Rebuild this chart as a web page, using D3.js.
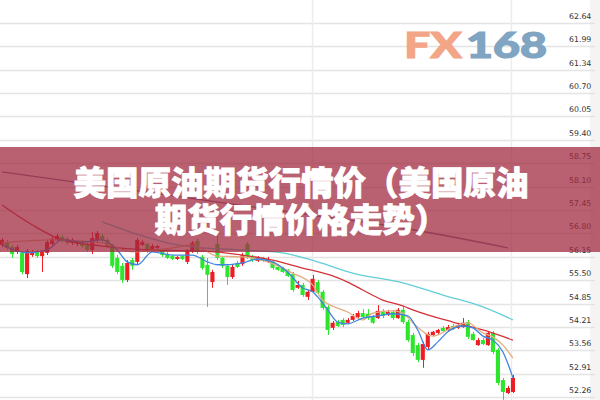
<!DOCTYPE html>
<html><head><meta charset="utf-8">
<script src="https://cdn.jsdelivr.net/npm/d3@7/dist/d3.min.js"></script>
<style>html,body{margin:0;padding:0;background:#fff;overflow:hidden}svg{display:block}</style>
</head><body>
<svg id="chart" width="600" height="400"></svg>
<script>
// ---- data ----
const openP = [56.48,56.56,56.42,56.29,56.26,55.67,56.20,56.29,56.17,56.26,
 56.51,56.62,56.70,56.65,56.54,56.51,56.56,56.48,56.34,56.62,
 56.73,56.62,56.45,56.12,55.90,55.51,56.06,56.01,56.48,56.51,
 56.37,56.40,56.31,56.23,56.17,56.09,56.17,56.01,56.29,56.59,
 56.15,55.93,55.45,56.51,56.12,55.90,55.59,55.98,55.95,56.51,
 56.15,56.04,56.12,56.01,56.01,55.87,55.84,55.79,55.67,55.29,
 55.37,55.04,55.18,55.45,55.18,54.76,54.18,54.34,54.40,54.32,
 54.40,54.48,54.59,54.57,54.48,54.45,54.65,54.54,54.62,54.45,
 54.68,54.34,53.98,53.70,53.29,53.65,53.98,54.04,54.18,54.12,
 54.23,54.18,54.20,54.34,54.01,53.70,53.84,53.70,54.04,53.57,
 52.73,52.37,52.40];
const closeP = [56.62,56.40,56.23,56.42,55.73,56.31,56.29,56.17,56.29,56.56,
 56.65,56.73,56.59,56.54,56.62,56.59,56.45,56.34,56.67,56.81,
 56.62,56.45,55.90,55.73,55.51,55.98,55.90,56.62,56.56,56.31,
 56.45,56.45,56.20,56.12,56.09,56.15,56.09,56.31,56.54,56.29,
 55.84,55.65,55.73,56.12,55.90,55.59,55.87,55.87,56.20,56.15,
 56.06,56.12,56.04,56.09,55.84,55.79,55.73,55.62,55.23,55.37,
 55.09,55.18,55.54,55.15,54.73,54.12,54.32,54.23,54.26,54.40,
 54.51,54.59,54.48,54.45,54.32,54.65,54.51,54.62,54.45,54.68,
 54.34,53.84,53.48,53.29,53.73,54.01,54.07,54.12,54.09,54.20,
 54.15,54.26,54.32,53.93,53.84,53.84,53.73,54.04,53.51,52.65,
 52.40,52.51,52.79];
const highP = [56.67,56.62,56.48,56.48,56.31,56.37,56.34,56.34,56.34,56.62,
 56.70,56.79,56.76,56.70,56.67,56.62,56.62,56.54,56.84,56.87,
 56.79,56.67,56.51,56.20,55.98,56.06,56.12,56.67,56.62,56.54,
 56.51,56.48,56.34,56.29,56.20,56.17,56.20,56.37,56.59,56.65,
 56.20,56.12,55.79,56.73,56.17,55.95,55.93,56.04,56.26,56.56,
 56.20,56.17,56.15,56.15,56.06,55.90,55.87,55.81,55.73,55.48,
 55.43,55.23,55.65,55.51,55.23,54.81,54.37,54.40,54.45,54.45,
 54.57,54.65,54.70,54.70,54.54,54.81,54.70,54.68,54.68,54.73,
 54.79,54.40,54.04,53.76,53.79,54.07,54.09,54.15,54.23,54.26,
 54.29,54.32,54.45,54.40,54.07,53.90,53.90,54.09,54.09,53.62,
 52.79,52.57,52.87];
const lowP = [56.42,56.34,56.12,56.23,55.67,55.56,56.15,56.12,55.73,56.20,
 56.45,56.59,56.54,56.48,56.48,56.45,56.40,56.29,56.23,56.56,
 56.56,56.40,55.84,55.67,55.43,55.45,55.79,55.95,56.45,56.26,
 56.34,56.37,56.15,56.09,56.06,56.06,56.06,55.95,56.26,56.23,
 55.79,54.76,55.29,56.06,55.84,55.37,55.54,55.84,55.90,56.09,
 56.01,56.01,56.01,55.98,55.79,55.76,55.70,55.59,55.18,55.26,
 55.04,54.95,55.15,55.09,54.68,53.98,54.12,54.20,54.20,54.29,
 54.37,54.45,54.45,54.40,54.29,54.43,54.45,54.51,54.40,54.43,
 54.29,53.79,53.40,53.23,53.07,53.59,53.95,54.01,54.07,54.09,
 54.12,54.15,54.18,53.87,53.82,53.68,53.70,53.68,53.45,52.59,
 52.18,52.34,52.37];
const sessions = openP.map((_, i) => i);

// moving-average lines, read at selected sessions
const ma5Idx = [0,5,9,12,16,20,23,25,27,30,34,38,41,43,45,48,51,54,57,60,62,63,65,67,69,72,75,78,81,83,85,87,89,92,94,96,98,100,102];
const ma5Val = [56.48,56.26,56.34,56.62,56.56,56.62,56.34,56.01,55.93,56.29,56.20,56.20,56.01,55.93,55.93,55.98,56.09,56.01,55.73,55.29,55.18,55.04,54.68,54.34,54.29,54.45,54.51,54.57,54.51,54.12,53.57,53.79,54.07,54.23,54.18,53.95,53.84,53.51,52.79];
const ma10Idx = [0,10,20,26,34,38,43,48,53,58,62,64,69,72,74,78,80,82,86,90,93,96,98,100,102];
const ma10Val = [56.54,56.62,56.54,56.29,56.40,56.48,56.17,56.15,56.01,55.70,55.37,54.95,54.62,54.40,54.59,54.65,54.59,54.32,53.95,54.20,54.32,54.04,53.93,53.70,53.34];
const ma20Idx = [0,6,12,20,30,40,48,54,60,66,69,72,76,80,82,90,96,102];
const ma20Val = [57.59,57.04,56.62,56.45,56.34,56.31,56.20,56.06,55.84,55.62,55.45,55.23,54.95,54.79,54.68,54.34,54.12,53.84];
const ma40Idx = [20,28,35,40,48,56,63,70,80,88,96,102];
const ma40Val = [57.12,56.73,56.48,56.40,56.34,56.26,56.01,55.70,55.43,55.09,54.76,54.40];
const ma60Idx = [0,20,40,60,80,101];
const ma60Val = [58.51,58.12,57.73,57.34,56.95,56.40];

const tickLabels = ["62.64","61.99","61.34","60.70","60.05","59.40","58.75","58.10","57.45","56.80","56.15","55.50","54.85","54.21","53.56","52.91","52.26"];
const titleLines = ["美国原油期货行情价（美国原油", "期货行情价格走势）"];
const logoParts = ["FX", "168"];

// ---- drawing ----
const svg = d3.select("#chart");
const y = d3.scaleLinear().domain([52.26, 62.64]).range([397, 23]);
const x = d3.scaleBand().domain(sessions).range([0, 515]).paddingInner(0.18);
const bw = x.bandwidth();
const cx = i => x(i) + bw / 2;

// right strip
svg.append("rect").attr("x", 590).attr("y", 0).attr("width", 10).attr("height", 400).attr("fill", "#f4f4f4");

// horizontal grid
svg.append("g").selectAll("line").data(tickLabels).join("line")
  .attr("x1", 0).attr("x2", 595)
  .attr("y1", d => Math.round(y(+d)) + 0.5).attr("y2", d => Math.round(y(+d)) + 0.5)
  .attr("stroke", "#e4e4e4").attr("stroke-width", 1.3);
// vertical grid
svg.append("g").selectAll("line").data([62, 101.7]).join("line")
  .attr("x1", d => cx(Math.floor(d)) + (d % 1) * 5).attr("x2", d => cx(Math.floor(d)) + (d % 1) * 5)
  .attr("y1", 0).attr("y2", 400).attr("stroke", "#ececec").attr("stroke-width", 1.5);

// y labels
svg.append("g").selectAll("text").data(tickLabels).join("text")
  .attr("x", 569).attr("y", d => y(+d) - 4)
  .attr("font-family", "DejaVu Sans, Verdana, sans-serif").attr("font-size", 7.8)
  .attr("fill", "#333").text(d => d);

// candles
const up = "#ee1c24", down = "#2ee52e";
const cg = svg.append("g");
cg.selectAll("line").data(sessions).join("line")
  .attr("x1", i => Math.round(cx(i)) + 0.5).attr("x2", i => Math.round(cx(i)) + 0.5)
  .attr("y1", i => y(highP[i])).attr("y2", i => y(lowP[i]))
  .attr("stroke", i => closeP[i] >= openP[i] ? up : down).attr("stroke-width", 1);
cg.selectAll("rect").data(sessions).join("rect")
  .attr("x", i => x(i)).attr("width", bw)
  .attr("y", i => y(Math.max(openP[i], closeP[i])))
  .attr("height", i => Math.max(1.2, Math.abs(y(openP[i]) - y(closeP[i]))))
  .attr("fill", i => closeP[i] >= openP[i] ? up : down);

// moving averages
const line = d3.line().x(d => cx(d[0])).y(d => y(d[1])).curve(d3.curveMonotoneX);
const maSets = [
  [ma60Idx, ma60Val, "#7f6f8f"],
  [ma40Idx, ma40Val, "#62cfd6"],
  [ma20Idx, ma20Val, "#d2323a"],
  [ma10Idx, ma10Val, "#e2ad80"],
  [ma5Idx, ma5Val, "#3f86e0"]
];
maSets.forEach(([idx, val, col]) => {
  svg.append("path").datum(idx.map((k, j) => [k, val[j]]))
    .attr("d", line).attr("fill", "none").attr("stroke", col).attr("stroke-width", 1.3);
});

// logo
svg.append("text").attr("x", 404).attr("y", 58).attr("textLength", 58).attr("lengthAdjust", "spacingAndGlyphs")
  .attr("font-family", "Lato, Open Sans, sans-serif").attr("font-weight", 900).attr("font-size", 36)
  .attr("fill", "#f3a587").attr("stroke", "#f3a587").attr("stroke-width", 1).text(logoParts[0]);
svg.append("text").attr("x", 466).attr("y", 58).attr("textLength", 81).attr("lengthAdjust", "spacingAndGlyphs")
  .attr("font-family", "Lato, Open Sans, sans-serif").attr("font-weight", 900).attr("font-size", 36)
  .attr("fill", "#7fa5c2").attr("stroke", "#7fa5c2").attr("stroke-width", 1.2).text(logoParts[1]);

// banner
svg.append("rect").attr("x", 0).attr("y", 147).attr("width", 600).attr("height", 105)
  .attr("fill", "rgb(160,40,64)").attr("fill-opacity", 0.74);
svg.append("g").selectAll("text").data(titleLines).join("text")
  .attr("x", 301).attr("y", (d, i) => 180 + i * 37)
  .attr("text-anchor", "middle").attr("dominant-baseline", "central")
  .attr("font-family", "Noto Sans CJK SC, sans-serif").attr("font-weight", 900).attr("font-size", 32.5)
  .attr("fill", "#fff").attr("stroke", "#fff").attr("stroke-width", 0.8).text(d => d);
</script>
</body></html>
